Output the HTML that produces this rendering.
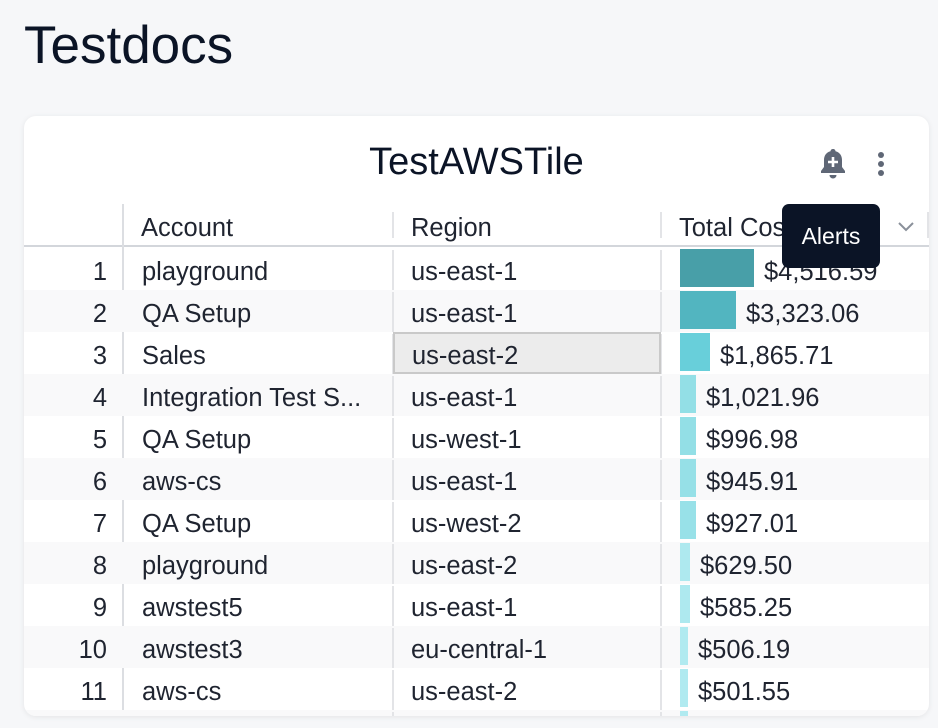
<!DOCTYPE html>
<html><head><style>
*{margin:0;padding:0;box-sizing:border-box}
body{width:938px;height:728px;background:#f6f7f9;font-family:"Liberation Sans",sans-serif;position:relative;overflow:hidden;color:#1f2430}
.h1{position:absolute;left:24px;top:17px;font-size:53px;color:#0b1426;line-height:58px}
.card{position:absolute;left:24px;top:116px;width:905px;height:600px;background:#fff;border-radius:12px;box-shadow:0 1px 6px rgba(0,0,0,.08);overflow:hidden}
.title{position:absolute;left:0;width:905px;top:25px;text-align:center;font-size:38px;color:#0b1426}
.a{position:absolute}
.row{position:absolute;left:0;width:905px;height:42px;font-size:25.5px;line-height:42px}
.row.alt{background:#f9f9fa}
.row span{position:absolute;top:3px}
.vl{position:absolute;width:2px;background:#e3e4e7}
.bar{position:absolute;left:656px;top:1px;height:38px}
</style></head><body>
<div class="h1">Testdocs</div>
<div class="card">
<div class="title">TestAWSTile</div>
<svg class="a" style="left:795px;top:31px" width="28" height="34" viewBox="0 0 28 34"><path d="M14 2c-1.5 0-2.5 1-2.5 2.3C7 5.5 5 9 5 13v7l-3 4v2h24v-2l-3-4v-7c0-4-2-7.5-6.5-8.7C16.5 3 15.5 2 14 2z" fill="#5f6776"/><path d="M10.5 28h7a3.5 3.5 0 0 1-7 0z" fill="#5f6776"/><path d="M14 10v10M9 15h10" stroke="#fff" stroke-width="2.6"/></svg>
<div class="a" style="left:854px;top:36px;width:6px;height:6px;border-radius:3px;background:#5f6776"></div>
<div class="a" style="left:854px;top:45px;width:6px;height:6px;border-radius:3px;background:#5f6776"></div>
<div class="a" style="left:854px;top:54px;width:6px;height:6px;border-radius:3px;background:#5f6776"></div>
<div class="row" style="top:88px;height:42px;line-height:42px;color:#1f2430"><span style="left:117px">Account</span><span style="left:387px">Region</span><span style="left:655px">Total Cost</span></div>
<div class="a" style="left:0;top:129px;width:905px;height:2px;background:#d3d6db"></div>
<div class="vl" style="left:98px;top:88px;height:520px;background:#dcdee2"></div>
<div class="vl" style="left:368px;top:96px;height:26px"></div>
<div class="vl" style="left:636px;top:96px;height:26px"></div>
<div class="vl" style="left:903px;top:96px;height:26px"></div>
<svg class="a" style="left:873px;top:104px" width="18" height="12"><path d="M2 3l7 7 7-7" stroke="#8a909a" stroke-width="2" fill="none"/></svg>
<div id="rows"></div>
<div class="a" style="left:369px;top:216px;width:268px;height:42px;background:#ececec;border:2px solid #c9c9c9"></div>
<div class="a" style="left:388px;top:219px;font-size:25.5px;line-height:42px">us-east-2</div>
</div>
<div class="a" style="left:782px;top:204px;width:98px;height:64px;background:#0b1426;border-radius:7px;color:#fff;font-size:23px;line-height:64px;text-align:center">Alerts</div>
<script>
var d=[["playground","us-east-1","$4,516.59",74,"#489fa8"],["QA Setup","us-east-1","$3,323.06",56,"#52b5c0"],["Sales","us-east-2","$1,865.71",30,"#68cfda"],["Integration Test S...","us-east-1","$1,021.96",16,"#93dfe6"],["QA Setup","us-west-1","$996.98",16,"#93dfe6"],["aws-cs","us-east-1","$945.91",16,"#96e0e7"],["QA Setup","us-west-2","$927.01",16,"#98e1e8"],["playground","us-east-2","$629.50",10,"#aee9ef"],["awstest5","us-east-1","$585.25",10,"#aee9ef"],["awstest3","eu-central-1","$506.19",8,"#b0eaf0"],["aws-cs","us-east-2","$501.55",8,"#b0eaf0"],["","","",8,"#b0eaf0"]];
var h="";d.forEach(function(r,i){var t=132+i*42;h+='<div class="row'+(i%2?' alt':'')+'" style="top:'+t+'px">'+(r[0]?'<span style="right:822px">'+(i+1)+'</span>':'')+'<span style="left:118px">'+r[0]+'</span><span style="left:387px">'+r[1]+'</span><div class="bar" style="width:'+r[3]+'px;background:'+r[4]+'"></div><span style="left:'+(666+r[3])+'px">'+r[2]+'</span></div>';
h+='<div class="vl" style="left:368px;top:'+(t+2)+'px;height:40px"></div><div class="vl" style="left:636px;top:'+(t+2)+'px;height:40px"></div>';});
document.getElementById("rows").innerHTML=h;
</script>
</body></html>
